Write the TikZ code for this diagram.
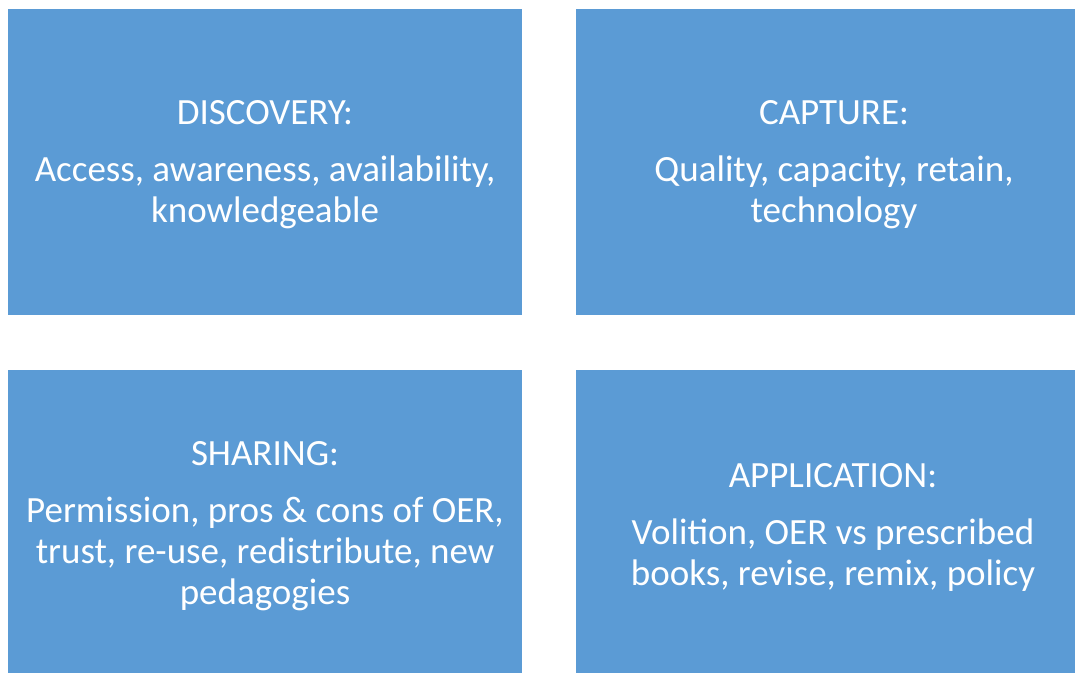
\documentclass[tikz,border=0pt]{standalone}
\usepackage{fontspec}
\setmainfont{Carlito}
\definecolor{boxblue}{HTML}{5B9BD5}
\tikzset{
  panel/.style={fill=boxblue, draw=none},
  paneltext/.style={text=white, align=center, font=\fontsize{37}{41}\selectfont, inner sep=0pt}
}
\begin{document}
\begin{tikzpicture}[x=1pt,y=1pt]
\useasboundingbox (0,0) rectangle (1075,673);
\fill[white] (0,0) rectangle (1075,673);
% boxes (y flipped: y = 673 - py)
\path[panel] (8,358) rectangle (522,664) node[pos=0.5] (discbox) {};
\path[panel] (576,358) rectangle (1075,664) node[pos=0.5] (captbox) {};
\path[panel] (8,0) rectangle (522,303) node[pos=0.5] (sharbox) {};
\path[panel] (576,0) rectangle (1075,303) node[pos=0.5] (applbox) {};
\node[paneltext] (disc) at (265,508) {DISCOVERY:\\[16pt]Access, awareness, availability,\\knowledgeable};
\node[paneltext] (capt) at (834,508) {CAPTURE:\\[16pt]Quality, capacity, retain,\\technology};
\node[paneltext] (shar) at (265,147) {SHARING:\\[16pt]Permission, pros \& cons of OER,\\trust, re-use, redistribute, new\\pedagogies};
\node[paneltext] (appl) at (833,146) {APPLICATION:\\[16pt]Volition, OER vs prescribed\\books, revise, remix, policy};
\end{tikzpicture}
\end{document}
